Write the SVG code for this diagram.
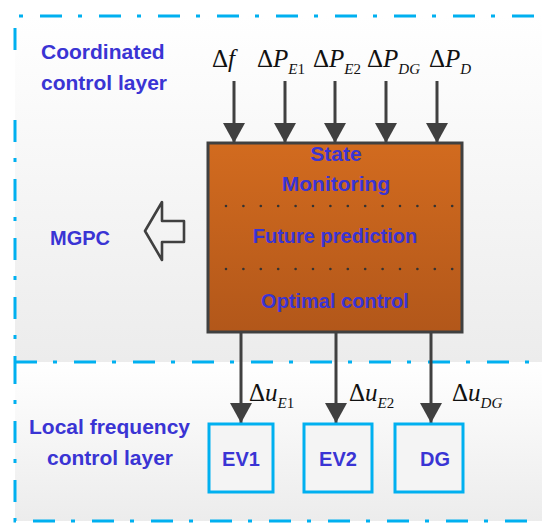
<svg xmlns="http://www.w3.org/2000/svg" width="542" height="525" viewBox="0 0 542 525">
<defs>
<linearGradient id="bgU" x1="0" y1="0" x2="0" y2="1">
<stop offset="0" stop-color="#ffffff"/><stop offset="1" stop-color="#ececec"/>
</linearGradient>
<linearGradient id="bgL" x1="0" y1="0" x2="0" y2="1">
<stop offset="0" stop-color="#ffffff"/><stop offset="1" stop-color="#ececec"/>
</linearGradient>
<linearGradient id="boxG" x1="0" y1="0" x2="0" y2="1">
<stop offset="0" stop-color="#d26b1f"/><stop offset="1" stop-color="#b2571a"/>
</linearGradient>
<marker id="ah" viewBox="0 0 20 22" refX="20" refY="11" markerWidth="20" markerHeight="22" markerUnits="userSpaceOnUse" orient="auto">
<path d="M0,0 L20,11 L0,22 z" fill="#404040"/>
</marker>
<style>
.border{fill:none;stroke:#00b0f0;stroke-width:3;stroke-dasharray:22 16 4 17}
.lbl{font-family:"Liberation Sans",Arial,sans-serif;font-weight:bold;fill:#3a34d4}
.math{font-family:"Liberation Serif","Times New Roman",serif;fill:#111}
.it{font-style:italic}
.conn{stroke:#404040;stroke-width:3;fill:none;marker-end:url(#ah)}
.dots{stroke:#333;stroke-width:2.6;stroke-linecap:round;stroke-dasharray:0 17.4}
.node{fill:#f4f4f4;stroke:#00b0f0;stroke-width:3}
</style>
</defs>
<rect x="0" y="0" width="542" height="525" fill="#ffffff"/>
<rect x="15" y="16" width="527" height="346" fill="url(#bgU)"/>
<rect x="15" y="362" width="527" height="159" fill="url(#bgL)"/>
<g id="layers">
<path class="border" d="M15,50 L15,16 L542,16"/>
<path class="border" d="M15,120 L15,362"/>
<line class="border" x1="15" y1="362" x2="542" y2="362"/>
<path class="border" d="M15,362 L15,521 L542,521"/>
<text class="lbl" x="41" y="59" font-size="21">Coordinated</text>
<text class="lbl" x="41" y="90" font-size="21">control layer</text>
<text class="lbl" x="29" y="434" font-size="21">Local frequency</text>
<text class="lbl" x="110" y="465" font-size="21" text-anchor="middle">control layer</text>
</g>
<g id="inputs">
<text class="math" x="212" y="67" font-size="25">Δ<tspan class="it">f</tspan></text>
<text class="math" x="257" y="67" font-size="25">Δ<tspan class="it">P</tspan><tspan class="it" font-size="15" dy="7">E</tspan><tspan font-size="15">1</tspan></text>
<text class="math" x="313" y="67" font-size="25">Δ<tspan class="it">P</tspan><tspan class="it" font-size="15" dy="7">E</tspan><tspan font-size="15">2</tspan></text>
<text class="math" x="367" y="67" font-size="25">Δ<tspan class="it">P</tspan><tspan class="it" font-size="15" dy="7">DG</tspan></text>
<text class="math" x="429" y="67" font-size="25">Δ<tspan class="it">P</tspan><tspan class="it" font-size="15" dy="7">D</tspan></text>
</g>
<g id="connectors">
<line class="conn" x1="234" y1="81" x2="234" y2="143"/>
<line class="conn" x1="285" y1="81" x2="285" y2="143"/>
<line class="conn" x1="335" y1="81" x2="335" y2="143"/>
<line class="conn" x1="386" y1="81" x2="386" y2="143"/>
<line class="conn" x1="437" y1="81" x2="437" y2="143"/>
<line class="conn" x1="241" y1="332" x2="241" y2="423"/>
<line class="conn" x1="336" y1="332" x2="336" y2="423"/>
<line class="conn" x1="431" y1="332" x2="431" y2="423"/>
</g>
<g id="mgpc">
<rect x="208" y="143" width="254" height="189" fill="url(#boxG)" stroke="#404040" stroke-width="3"/>
<line class="dots" x1="226" y1="206" x2="453" y2="206"/>
<line class="dots" x1="226" y1="269" x2="453" y2="269"/>
<text class="lbl" x="336" y="161" font-size="21" text-anchor="middle">State</text>
<text class="lbl" x="336" y="191" font-size="21" text-anchor="middle">Monitoring</text>
<text class="lbl" x="335" y="243" font-size="20" text-anchor="middle">Future prediction</text>
<text class="lbl" x="335" y="308" font-size="20" text-anchor="middle">Optimal control</text>
</g>
<g id="mgpc-label">
<text class="lbl" x="50" y="245" font-size="20">MGPC</text>
<path d="M145,231 L162,202 L162,221 L184,221 L184,242 L162,242 L162,260 Z" fill="none" stroke="#404040" stroke-width="2.6" stroke-linejoin="round"/>
</g>
<g id="outputs">
<text class="math" x="249" y="401" font-size="25">Δ<tspan class="it">u</tspan><tspan class="it" font-size="15" dy="7">E</tspan><tspan font-size="15">1</tspan></text>
<text class="math" x="349" y="401" font-size="25">Δ<tspan class="it">u</tspan><tspan class="it" font-size="15" dy="7">E</tspan><tspan font-size="15">2</tspan></text>
<text class="math" x="452" y="401" font-size="25">Δ<tspan class="it">u</tspan><tspan class="it" font-size="15" dy="7">DG</tspan></text>
</g>
<g id="ev1">
<rect class="node" x="209" y="424" width="64" height="68"/>
<text class="lbl" x="241" y="466" font-size="20" text-anchor="middle">EV1</text>
</g>
<g id="ev2">
<rect class="node" x="304" y="424" width="68" height="68"/>
<text class="lbl" x="338" y="466" font-size="20" text-anchor="middle">EV2</text>
</g>
<g id="dg">
<rect class="node" x="395" y="424" width="68" height="68"/>
<text class="lbl" x="435" y="466" font-size="20" text-anchor="middle">DG</text>
</g>
</svg>
